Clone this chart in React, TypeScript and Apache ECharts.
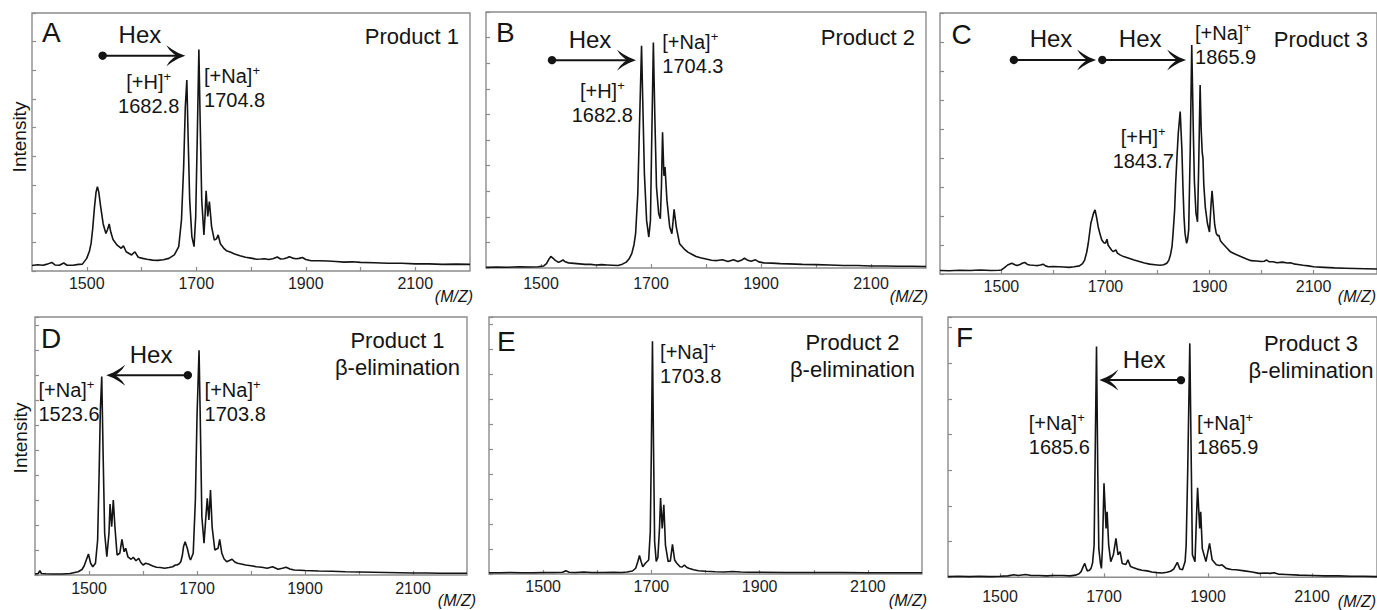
import React, { useEffect, useRef } from 'react';
import * as echarts from 'echarts';

const FONT = '"Liberation Sans", Arial, Helvetica, sans-serif';
const INK = '#141414';
const FRAME = '#8c8c8c';

// ---- spectra: [m/z, intensity] (intensity in y-tick units of each panel) ----
const specA: number[][] = [
  [1400,0.19],[1410,0.22],[1420,0.2],[1428,0.24],[1436,0.3],[1442,0.21],[1450,0.2],[1458,0.28],[1464,0.2],[1475,0.2],[1485,0.23],[1492,0.24],
  [1500,0.44],[1505,0.7],[1508,0.97],[1511,1.5],[1514,2.2],[1517,2.75],[1519.5,2.94],[1522,2.75],[1525,2.3],[1530,1.64],[1535,1.31],[1538,1.45],
  [1541,1.64],[1544,1.35],[1548,1.1],[1555,0.91],[1563,0.79],[1567,0.88],[1572,0.67],[1582,0.56],[1588,0.67],[1594,0.48],[1602,0.44],[1610,0.41],
  [1620,0.38],[1630,0.37],[1640,0.39],[1650,0.44],[1660,0.56],[1668,0.85],[1673,1.78],[1677,3.64],[1680,5.73],[1682.8,6.66],[1685,4.8],[1688,2.48],
  [1692,1.2],[1696,0.85],[1699,1.9],[1702,4.8],[1704.8,7.73],[1707,5.38],[1710,2.48],[1714,1.26],[1716,1.9],[1718,2.8],[1721,1.9],[1724,2.42],
  [1728,1.55],[1733,1.08],[1737,1.12],[1740,1.26],[1744,0.95],[1750,0.8],[1755,0.71],[1762,0.66],[1770,0.59],[1780,0.53],[1790,0.48],[1800,0.45],
  [1810,0.41],[1818,0.42],[1825,0.43],[1832,0.4],[1840,0.43],[1848,0.49],[1854,0.42],[1860,0.43],[1866,0.46],[1870,0.5],[1876,0.45],[1882,0.43],
  [1888,0.44],[1894,0.47],[1900,0.4],[1910,0.36],[1925,0.36],[1940,0.35],[1955,0.33],[1970,0.31],[1985,0.32],[2000,0.3],[2025,0.29],[2050,0.27],
  [2075,0.27],[2100,0.25],[2125,0.25],[2150,0.23],[2175,0.24],[2200,0.23],
];
const specB: number[][] = [
  [1400,0.03],[1420,0.04],[1440,0.03],[1460,0.05],[1480,0.04],[1495,0.05],[1505,0.08],[1510,0.17],[1514,0.33],[1518,0.45],[1522,0.38],[1526,0.3],
  [1532,0.22],[1537,0.27],[1540,0.32],[1544,0.24],[1550,0.2],[1560,0.18],[1570,0.16],[1580,0.14],[1590,0.14],[1600,0.12],[1610,0.13],[1620,0.12],
  [1630,0.11],[1640,0.1],[1648,0.15],[1655,0.23],[1660,0.35],[1665,0.56],[1669,0.9],[1672,1.34],[1676,2.9],[1679,5.49],[1682.8,8.68],[1685,6.53],
  [1688,3.68],[1692,1.86],[1696,1.21],[1699,1.86],[1701,4.58],[1704.3,8.81],[1707,5.88],[1710,3.16],[1714,2.12],[1717,1.92],[1719,3.2],[1721,5.3],
  [1723.5,3.6],[1725.5,3.94],[1729,2.64],[1734,1.6],[1738,1.34],[1740,1.8],[1742,2.29],[1746,1.6],[1752,0.95],[1760,0.75],[1767,0.62],[1775,0.53],
  [1782,0.45],[1790,0.4],[1800,0.35],[1810,0.3],[1820,0.29],[1830,0.32],[1840,0.25],[1850,0.32],[1858,0.25],[1864,0.3],[1870,0.38],[1876,0.3],
  [1882,0.26],[1890,0.32],[1896,0.24],[1905,0.2],[1920,0.19],[1935,0.17],[1950,0.16],[1975,0.14],[2000,0.13],[2025,0.12],[2050,0.1],[2075,0.1],
  [2100,0.08],[2125,0.08],[2150,0.07],[2175,0.07],[2200,0.06],
];
const specC: number[][] = [
  [1382,0.12],[1400,0.11],[1420,0.13],[1440,0.12],[1460,0.14],[1480,0.12],[1495,0.13],[1500,0.14],[1506,0.22],[1512,0.31],[1520,0.37],[1526,0.32],
  [1530,0.29],[1536,0.33],[1540,0.37],[1545,0.4],[1550,0.33],[1555,0.31],[1562,0.3],[1570,0.29],[1575,0.31],[1580,0.34],[1585,0.28],[1590,0.25],
  [1600,0.26],[1610,0.25],[1620,0.24],[1630,0.23],[1640,0.25],[1650,0.28],[1656,0.36],[1660,0.48],[1664,0.75],[1667,1.06],[1672,1.75],[1677,2.09],
  [1680,2.21],[1683,1.95],[1686,1.63],[1690,1.35],[1693,1.17],[1697,1.08],[1700,1.06],[1703,1.2],[1705,1.0],[1708,0.92],[1712,0.82],[1715,0.77],
  [1720,0.83],[1723,0.72],[1728,0.66],[1735,0.6],[1745,0.54],[1755,0.48],[1765,0.43],[1775,0.38],[1785,0.34],[1795,0.32],[1805,0.3],[1812,0.32],
  [1818,0.37],[1822,0.48],[1825,0.66],[1828,0.95],[1830,1.4],[1833,2.2],[1835,3.13],[1838,4.2],[1840,4.85],[1843.7,5.6],[1847,4.28],[1849,3.0],
  [1851,1.98],[1853,1.4],[1856,1.06],[1858,1.2],[1860,1.52],[1863,4.28],[1865.9,7.9],[1869,4.85],[1871,3.2],[1874,2.1],[1877,1.8],[1879,3.5],
  [1882,6.52],[1884,5.0],[1886,4.2],[1887.5,3.99],[1889,3.1],[1892,2.3],[1896,1.75],[1900,1.45],[1903,2.4],[1905,2.87],[1907,2.4],[1910,1.7],
  [1913,1.4],[1916,1.32],[1918,1.34],[1921,1.15],[1925,1.06],[1932,0.92],[1940,0.77],[1950,0.68],[1960,0.6],[1970,0.53],[1980,0.46],[1990,0.45],
  [2000,0.43],[2005,0.44],[2010,0.48],[2015,0.42],[2022,0.42],[2030,0.39],[2040,0.41],[2050,0.38],[2055,0.39],[2062,0.35],[2070,0.33],[2080,0.3],
  [2090,0.28],[2100,0.25],[2120,0.23],[2140,0.21],[2160,0.2],[2180,0.19],[2200,0.18],[2222,0.17],
];
const specD: number[][] = [
  [1400,0.04],[1406,0.06],[1409,0.17],[1412,0.06],[1420,0.05],[1435,0.04],[1450,0.04],[1465,0.06],[1480,0.13],[1487,0.22],[1491,0.36],[1495,0.6],
  [1499,0.84],[1503,0.47],[1507,0.33],[1512,0.47],[1516,1.4],[1519,4.33],[1521,6.6],[1523.6,7.95],[1526,5.0],[1529,1.67],[1533,0.73],[1537,1.67],
  [1539,2.84],[1542,1.93],[1545,3.0],[1548,1.93],[1552,0.8],[1557,0.87],[1561,1.43],[1565,0.93],[1568,1.07],[1572,0.73],[1578,0.63],[1582,0.71],
  [1587,0.57],[1592,0.67],[1596,0.5],[1600,0.4],[1605,0.47],[1610,0.44],[1618,0.36],[1625,0.31],[1632,0.3],[1640,0.27],[1648,0.3],[1655,0.33],
  [1660,0.4],[1663,0.4],[1667,0.45],[1670,0.53],[1673,0.8],[1675,1.13],[1678,1.33],[1682,1.07],[1686,0.7],[1688,0.6],[1693,0.87],[1697,3.0],
  [1700,6.33],[1703.8,9.0],[1706,6.33],[1709,2.33],[1713,1.27],[1716,2.2],[1719,3.07],[1722,2.2],[1725,3.4],[1728,1.93],[1733,1.0],[1739,1.07],
  [1742,1.43],[1746,0.87],[1750,0.65],[1755,0.53],[1760,0.58],[1765,0.63],[1770,0.52],[1775,0.47],[1782,0.44],[1790,0.4],[1800,0.37],[1810,0.33],
  [1820,0.31],[1830,0.27],[1840,0.33],[1845,0.28],[1850,0.23],[1858,0.27],[1865,0.31],[1872,0.24],[1880,0.2],[1890,0.19],[1900,0.18],[1925,0.16],
  [1950,0.15],[1975,0.13],[2000,0.12],[2025,0.11],[2050,0.1],[2075,0.09],[2100,0.08],[2125,0.08],[2150,0.07],[2175,0.07],[2200,0.07],
];
const specE: number[][] = [
  [1400,0.05],[1420,0.05],[1440,0.06],[1460,0.05],[1480,0.05],[1500,0.06],[1520,0.06],[1536,0.07],[1542,0.13],[1548,0.07],[1560,0.06],[1575,0.08],
  [1590,0.06],[1610,0.06],[1630,0.07],[1645,0.06],[1655,0.08],[1665,0.12],[1671,0.23],[1675,0.5],[1678,0.74],[1681,0.5],[1684,0.29],[1689,0.43],
  [1695,0.56],[1698,1.7],[1700,5.05],[1702,9.33],[1704,5.05],[1706,1.3],[1709,0.5],[1712,0.66],[1715,1.83],[1717,3.04],[1720,1.83],[1723,2.77],
  [1726,1.16],[1731,0.5],[1735,0.52],[1739,1.19],[1743,0.56],[1747,0.43],[1753,0.29],[1757,0.28],[1761,0.36],[1765,0.27],[1769,0.23],[1778,0.17],
  [1787,0.13],[1800,0.11],[1818,0.09],[1835,0.08],[1850,0.1],[1865,0.08],[1880,0.07],[1900,0.07],[1950,0.06],[2000,0.06],[2050,0.06],[2100,0.05],
  [2150,0.05],[2200,0.05],
];
const specF: number[][] = [
  [1400,0.02],[1420,0.03],[1440,0.02],[1460,0.03],[1480,0.02],[1500,0.03],[1515,0.04],[1527,0.07],[1535,0.05],[1549,0.08],[1560,0.05],[1575,0.05],
  [1590,0.04],[1600,0.05],[1620,0.05],[1635,0.04],[1645,0.06],[1652,0.1],[1656,0.16],[1660,0.3],[1663,0.39],[1666,0.25],[1668,0.18],[1672,0.2],
  [1675,0.25],[1678,0.4],[1681,0.9],[1683,3.4],[1685.6,6.47],[1688,3.0],[1690,0.81],[1693,0.4],[1695,0.25],[1697,0.81],[1700,2.64],[1704,1.37],
  [1706,1.84],[1709,0.91],[1713,0.44],[1718,0.63],[1723,1.09],[1727,0.63],[1731,0.72],[1735,0.39],[1742,0.36],[1746,0.49],[1751,0.3],[1757,0.27],
  [1764,0.23],[1773,0.2],[1783,0.18],[1792,0.15],[1802,0.13],[1812,0.12],[1821,0.14],[1828,0.17],[1834,0.23],[1841,0.42],[1846,0.23],[1851,0.21],
  [1856,0.44],[1858,0.9],[1861,3.0],[1865,6.56],[1868,3.0],[1870,0.63],[1875,0.44],[1878,1.75],[1880,2.51],[1884,1.37],[1886,1.84],[1889,0.81],
  [1896,0.44],[1903,0.95],[1908,0.49],[1916,0.35],[1922,0.33],[1927,0.35],[1935,0.25],[1945,0.22],[1954,0.21],[1970,0.18],[1985,0.15],[1998,0.11],
  [2010,0.12],[2020,0.11],[2027,0.13],[2035,0.09],[2050,0.08],[2075,0.06],[2100,0.05],[2125,0.04],[2150,0.04],[2175,0.03],[2200,0.03],[2225,0.02],
];

// ---- axes ----
const xTickValues = [1500, 1600, 1700, 1800, 1900, 2000, 2100];
const xLabelValues = [1500, 1700, 1900, 2100];
const xRanges = [[1400, 2200], [1400, 2200], [1382, 2222], [1400, 2200], [1400, 2200], [1400, 2225]];
const yMaxes = [9, 10, 9, 10.33, 10.3, 7.3];

// ---- annotations ----
const panelLetters = ['A', 'B', 'C', 'D', 'E', 'F'];
const productNames = ['Product 1', 'Product 2', 'Product 3', 'Product 1', 'Product 2', 'Product 3'];
const treatment = 'β-elimination';
const axisTitleY = 'Intensity';
const axisTitleX = '(M/Z)';
const arrowText = 'Hex';

// arrows: [start m/z (dot), end m/z (head), intensity level]
const arrowsA = [[1529, 1680, 7.51]];
const arrowsB = [[1520, 1672.7, 8.12]];
const arrowsC = [[1524, 1682, 7.38], [1694, 1855, 7.38]];
const arrowsD = [[1683, 1532, 8.0]];
const arrowsE: number[][] = [];
const arrowsF = [[1848, 1691, 5.53]];

// peak labels: ion, m/z text
const ionsA = ['[+H]', '[+Na]'];
const massesA = ['1682.8', '1704.8'];
const ionsB = ['[+H]', '[+Na]'];
const massesB = ['1682.8', '1704.3'];
const ionsC = ['[+H]', '[+Na]'];
const massesC = ['1843.7', '1865.9'];
const ionsD = ['[+Na]', '[+Na]'];
const massesD = ['1523.6', '1703.8'];
const ionsE = ['[+Na]'];
const massesE = ['1703.8'];
const ionsF = ['[+Na]', '[+Na]'];
const massesF = ['1685.6', '1865.9'];

// label anchors (data coords of text-block top) and alignment
const anchorsA = [[1613.1, 7.01], [1714.2, 7.22]];
const anchorsB = [[1611.5, 7.4], [1720.5, 9.28]];
const anchorsC = [[1772.6, 5.15], [1872.2, 8.71]];
const anchorsD = [[1406.4, 7.88], [1714.1, 7.88]];
const anchorsE = [[1716.1, 9.36]];
const anchorsF = [[1555.4, 4.66], [1879, 4.66]];
const alignsA = ['center', 'left'];
const alignsB = ['center', 'left'];
const alignsC = ['center', 'left'];
const alignsD = ['left', 'left'];
const alignsE = ['left'];
const alignsF = ['left', 'left'];

// ---- layout (pixels) ----
const grids = [
  { left: 32, top: 13, width: 438, height: 258 },
  { left: 486, top: 12, width: 440, height: 256 },
  { left: 940, top: 13, width: 438.5, height: 261 },
  { left: 35, top: 317, width: 432, height: 258 },
  { left: 489, top: 317, width: 433, height: 257 },
  { left: 948, top: 317, width: 431.5, height: 260.3 },
];
const labelMargins = [4.5, 7, 4.5, 5, 4, 11.5];
const letterPos = [[42, 32.5], [496, 32.5], [951.5, 34.5], [41, 338], [497, 341.5], [956, 337.5]];
const productPos = [[459, 36.5], [915, 37], [1368, 39.5], [397.5, 353.75], [852.5, 355.5], [1311, 356.75]];
const mzPos = [[473, 296], [928, 296], [1376, 296], [476, 600], [927, 600], [1376, 601]];
const intensityPos = [[19, 137], [20.5, 438]];

const specs = [specA, specB, specC, specD, specE, specF];
const arrows = [arrowsA, arrowsB, arrowsC, arrowsD, arrowsE, arrowsF];
const ions = [ionsA, ionsB, ionsC, ionsD, ionsE, ionsF];
const masses = [massesA, massesB, massesC, massesD, massesE, massesF];
const anchors = [anchorsA, anchorsB, anchorsC, anchorsD, anchorsE, anchorsF];
const aligns = [alignsA, alignsB, alignsC, alignsD, alignsE, alignsF];

const labelRich = {
  t: { fontSize: 20, lineHeight: 24, fontFamily: FONT, fill: INK, color: INK },
  s: { fontSize: 13, lineHeight: 14, fontFamily: FONT, fill: INK, color: INK, verticalAlign: 'top' },
};

function renderArrow(_params: any, api: any) {
  const p0 = api.coord([api.value(0), api.value(2)]);
  const p1 = api.coord([api.value(1), api.value(2)]);
  const dir = p1[0] > p0[0] ? 1 : -1;
  const tx = p1[0];
  const ty = p1[1];
  const headShape = [
    [0, 0], [-7, -2.8], [-13, -6.2], [-19, -10.5], [-16, -6], [-12, -2.2], [-9, 0],
    [-12, 2.2], [-16, 6], [-19, 10.5], [-13, 6.2], [-7, 2.8],
  ];
  const head = headShape.map(([dx, dy]) => [tx + dir * dx, ty + dy]);
  const midX = (p0[0] + p1[0]) / 2 - dir * 4;
  return {
    type: 'group',
    children: [
      { type: 'line', shape: { x1: p0[0], y1: p0[1], x2: tx - dir * 8, y2: ty }, style: { stroke: INK, lineWidth: 2 } },
      { type: 'circle', shape: { cx: p0[0], cy: p0[1], r: 4.2 }, style: { fill: INK } },
      { type: 'polygon', shape: { points: head }, style: { fill: INK } },
      {
        type: 'text', x: midX, y: p0[1] - 21,
        style: { text: arrowText, fontSize: 24, fontFamily: FONT, fill: INK, align: 'center', verticalAlign: 'middle' },
      },
    ],
  };
}

function makeLabelRenderer(panel: number) {
  return (params: any, api: any) => {
    const k = params.dataIndex;
    const p = api.coord([api.value(0), api.value(1)]);
    return {
      type: 'text',
      x: p[0],
      y: p[1],
      style: {
        text: `{t|${ions[panel][k]}}{s|+}\n{t|${masses[panel][k]}}`,
        rich: labelRich,
        align: aligns[panel][k],
        verticalAlign: 'top',
        fontFamily: FONT,
        fill: INK,
      },
    };
  };
}

export default function App() {
  const ref = useRef<HTMLDivElement>(null);

  useEffect(() => {
    if (!ref.current) return;
    const chart = echarts.init(ref.current, undefined, { renderer: 'svg' });

    const gridOpts = grids.map((g) => ({
      ...g,
      show: true,
      borderColor: FRAME,
      borderWidth: 1.4,
      backgroundColor: 'transparent',
      containLabel: false,
    }));

    const xAxes = grids.map((_, i) => ({
      type: 'value',
      gridIndex: i,
      min: xRanges[i][0],
      max: xRanges[i][1],
      axisLine: { show: false },
      splitLine: { show: false },
      axisTick: {
        show: true, inside: true, length: 4, customValues: xTickValues,
        lineStyle: { color: FRAME, width: 1.2 },
      },
      axisLabel: {
        show: true, customValues: xLabelValues, margin: labelMargins[i],
        fontSize: 16, fontFamily: FONT, color: '#1c1c1c',
        hideOverlap: false,
        formatter: (v: number) => String(Math.round(v)),
      },
    }));

    const yAxes = grids.map((_, i) => ({
      type: 'value',
      gridIndex: i,
      min: 0,
      max: yMaxes[i],
      interval: 1,
      axisLine: { show: false },
      splitLine: { show: false },
      axisTick: { show: true, inside: true, length: 4, lineStyle: { color: FRAME, width: 1.2 } },
      axisLabel: { show: false },
    }));

    const series: any[] = [];
    specs.forEach((spec, i) => {
      series.push({
        type: 'line',
        xAxisIndex: i,
        yAxisIndex: i,
        data: spec,
        showSymbol: false,
        symbol: 'none',
        silent: true,
        clip: true,
        lineStyle: { color: INK, width: 1.6 },
        z: 3,
      });
      if (arrows[i].length) {
        series.push({
          type: 'custom',
          xAxisIndex: i,
          yAxisIndex: i,
          data: arrows[i],
          renderItem: renderArrow,
          silent: true,
          z: 4,
        });
      }
      series.push({
        type: 'custom',
        xAxisIndex: i,
        yAxisIndex: i,
        data: anchors[i],
        renderItem: makeLabelRenderer(i),
        silent: true,
        z: 4,
      });
    });

    const graphics: any[] = [];
    panelLetters.forEach((letter, i) => {
      graphics.push({
        type: 'text', x: letterPos[i][0], y: letterPos[i][1], silent: true,
        style: { text: letter, fontSize: 28, fontFamily: FONT, fill: INK, align: 'left', verticalAlign: 'middle' },
      });
      const bottomRow = i >= 3;
      graphics.push({
        type: 'text', x: productPos[i][0], y: productPos[i][1], silent: true,
        style: {
          text: bottomRow ? `${productNames[i]}\n${treatment}` : productNames[i],
          fontSize: 22, fontFamily: FONT, fill: INK,
          align: bottomRow ? 'center' : 'right', verticalAlign: 'middle',
          lineHeight: 27,
        },
      });
      graphics.push({
        type: 'text', x: mzPos[i][0], y: mzPos[i][1], silent: true,
        style: {
          text: axisTitleX, fontSize: 16, fontStyle: 'italic', fontFamily: FONT, fill: INK,
          align: 'right', verticalAlign: 'middle',
        },
      });
    });
    intensityPos.forEach(([x, y]) => {
      graphics.push({
        type: 'text', x, y, rotation: Math.PI / 2, silent: true,
        style: { text: axisTitleY, fontSize: 19, fontFamily: FONT, fill: INK, align: 'center', verticalAlign: 'middle' },
      });
    });

    chart.setOption({
      animation: false,
      backgroundColor: '#ffffff',
      grid: gridOpts,
      xAxis: xAxes,
      yAxis: yAxes,
      series,
      graphic: graphics,
    });

    return () => chart.dispose();
  }, []);

  return (
    <div
      ref={ref}
      style={{ position: 'absolute', left: 0, top: 0, width: 1377, height: 610, background: '#fff' }}
    />
  );
}
